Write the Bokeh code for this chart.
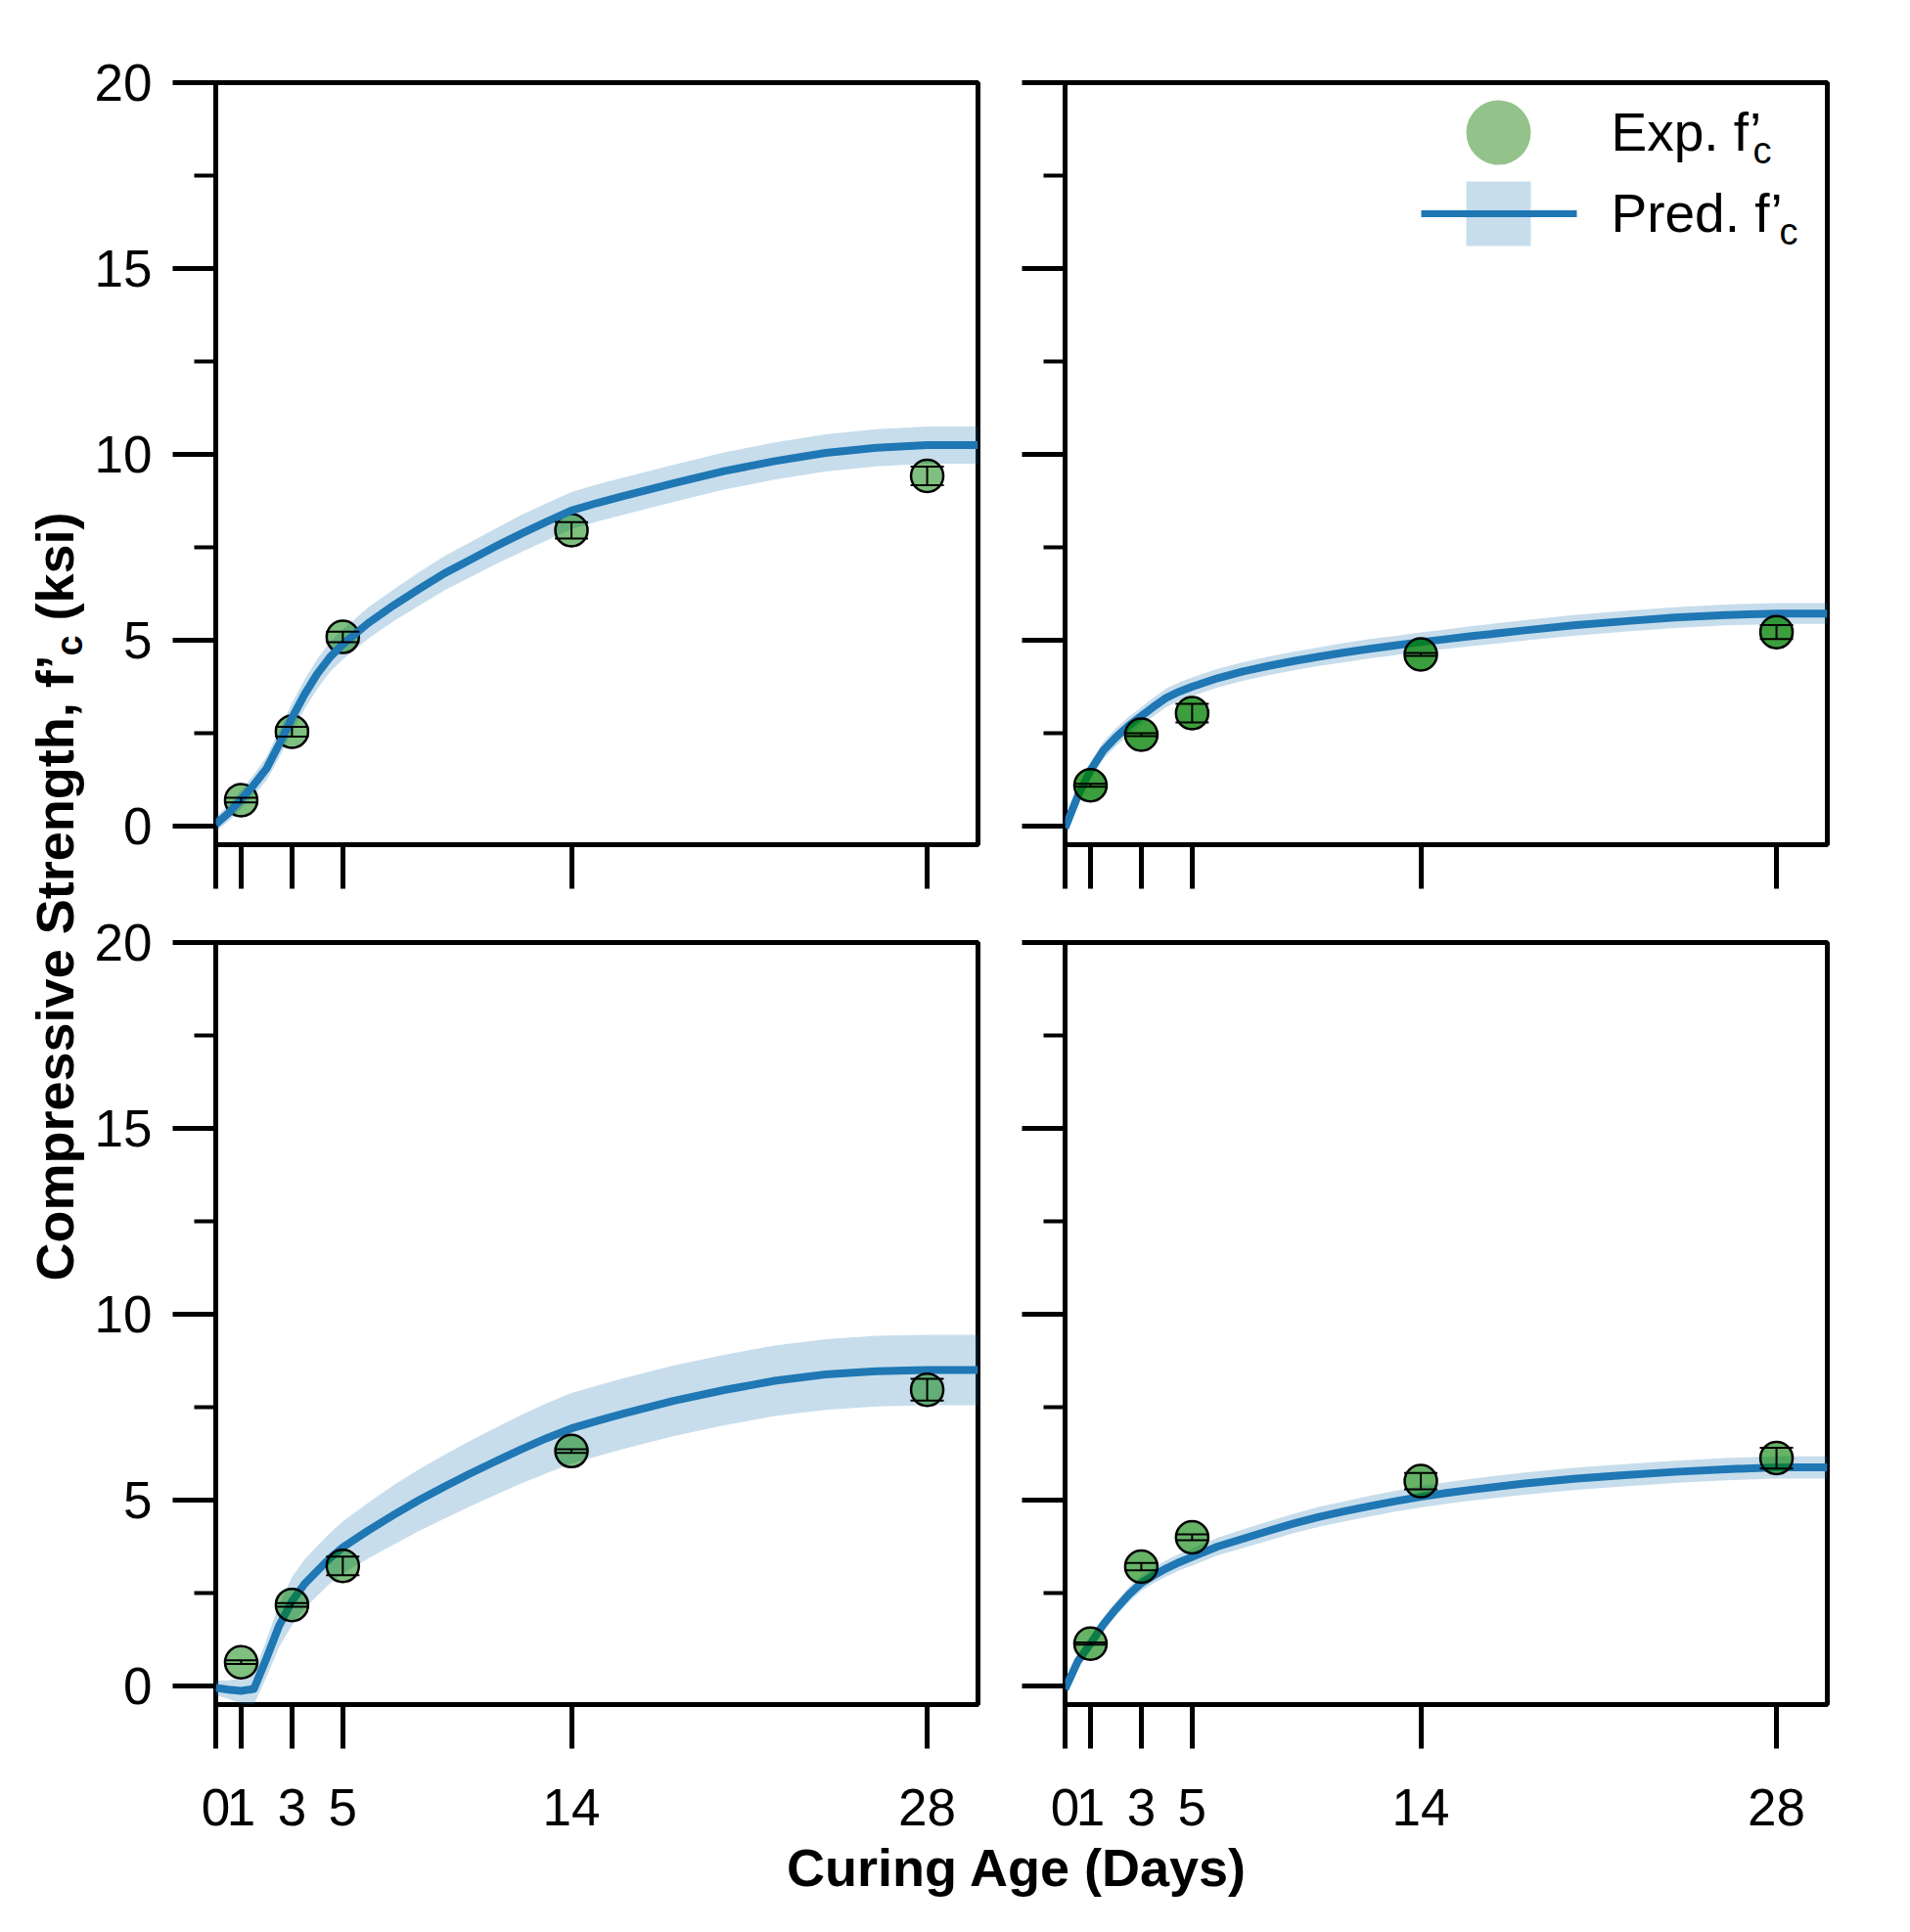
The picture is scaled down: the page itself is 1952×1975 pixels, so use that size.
import math
from bokeh.plotting import figure
from bokeh.models import (Range1d, FixedTicker, ColumnDataSource, Whisker, TeeHead,
                          Label, BoxAnnotation)
from bokeh.layouts import row, column
from bokeh.embed import file_html
from bokeh.resources import INLINE

FONT = "Liberation Sans"

# ---------------- data ----------------
curve_days = [0, 0.5, 1, 1.5, 2, 2.5, 3, 3.5, 4, 4.5, 5, 6, 7, 8, 9, 10, 11, 12, 13, 14,
              15, 16, 18, 20, 22, 24, 26, 28, 30]
exp_days = [1, 3, 5, 14, 28]
x_ticks = [0, 1, 3, 5, 14, 28]
y_major = [0, 5, 10, 15, 20]
y_minor = [2.5, 7.5, 12.5, 17.5]

# top-left panel
a_exp = [0.70, 2.54, 5.09, 7.96, 9.42]
a_err = [0.06, 0.13, 0.14, 0.22, 0.25]
a_pred = [0.05, 0.35, 0.72, 1.11, 1.55, 2.21, 2.91, 3.55, 4.10, 4.55, 4.89, 5.46, 5.94, 6.38, 6.80,
          7.16, 7.52, 7.86, 8.18, 8.49, 8.69, 8.87, 9.22, 9.55, 9.82, 10.04, 10.18, 10.25, 10.25]
a_lo = [-0.15, 0.13, 0.47, 0.83, 1.23, 1.85, 2.51, 3.15, 3.70, 4.15, 4.49, 5.04, 5.51, 5.93, 6.34,
        6.69, 7.04, 7.36, 7.68, 7.99, 8.19, 8.37, 8.72, 9.05, 9.32, 9.54, 9.68, 9.75, 9.75]
a_hi = [0.25, 0.57, 0.97, 1.39, 1.87, 2.57, 3.31, 3.95, 4.50, 4.95, 5.29, 5.88, 6.37, 6.83, 7.26,
        7.63, 8.00, 8.36, 8.68, 8.99, 9.19, 9.37, 9.72, 10.05, 10.32, 10.54, 10.68, 10.75, 10.75]

# top-right panel
b_exp = [1.10, 2.46, 3.04, 4.62, 5.22]
b_err = [0.04, 0.04, 0.25, 0.04, 0.19]
b_pred = [-0.05, 0.81, 1.50, 2.03, 2.39, 2.70, 2.96, 3.22, 3.46, 3.62, 3.75, 3.98, 4.16, 4.31, 4.44,
          4.56, 4.67, 4.77, 4.86, 4.95, 5.03, 5.11, 5.26, 5.40, 5.51, 5.61, 5.68, 5.72, 5.72]
b_lo = [-0.20, 0.61, 1.28, 1.80, 2.15, 2.46, 2.72, 2.97, 3.21, 3.37, 3.50, 3.73, 3.91, 4.06, 4.19,
        4.31, 4.41, 4.51, 4.60, 4.69, 4.77, 4.84, 4.99, 5.12, 5.23, 5.33, 5.40, 5.44, 5.44]
b_hi = [0.10, 1.01, 1.72, 2.26, 2.63, 2.94, 3.20, 3.47, 3.71, 3.87, 4.00, 4.23, 4.41, 4.56, 4.69,
        4.81, 4.93, 5.03, 5.12, 5.21, 5.29, 5.38, 5.53, 5.68, 5.79, 5.89, 5.96, 6.00, 6.00]

# bottom-left panel
c_exp = [0.64, 2.18, 3.23, 6.32, 7.97]
c_err = [0.05, 0.05, 0.25, 0.05, 0.29]
c_pred = [-0.05, -0.10, -0.13, -0.08, 0.75, 1.63, 2.28, 2.75, 3.10, 3.44, 3.73, 4.18, 4.60, 5.00, 5.36,
          5.71, 6.04, 6.36, 6.66, 6.93, 7.13, 7.32, 7.67, 7.96, 8.21, 8.38, 8.47, 8.50, 8.50]
c_lo = [-0.25, -0.35, -0.48, -0.50, 0.25, 1.05, 1.63, 2.09, 2.43, 2.76, 3.03, 3.43, 3.80, 4.17, 4.50,
        4.83, 5.14, 5.44, 5.72, 5.98, 6.18, 6.37, 6.72, 7.01, 7.26, 7.43, 7.52, 7.55, 7.55]
c_hi = [0.15, 0.15, 0.22, 0.34, 1.25, 2.21, 2.93, 3.41, 3.77, 4.12, 4.43, 4.93, 5.40, 5.83, 6.22,
        6.59, 6.94, 7.28, 7.60, 7.88, 8.08, 8.27, 8.62, 8.91, 9.16, 9.33, 9.42, 9.45, 9.45]

# bottom-right panel
d_exp = [1.14, 3.21, 4.00, 5.51, 6.13]
d_err = [0.03, 0.10, 0.08, 0.22, 0.28]
d_pred = [-0.08, 0.66, 1.14, 1.65, 2.07, 2.45, 2.77, 2.98, 3.17, 3.33, 3.47, 3.75, 3.96, 4.17, 4.37,
          4.55, 4.70, 4.84, 4.97, 5.09, 5.19, 5.28, 5.44, 5.57, 5.67, 5.76, 5.83, 5.88, 5.88]
d_lo = [-0.23, 0.50, 0.97, 1.47, 1.88, 2.25, 2.56, 2.77, 2.95, 3.11, 3.24, 3.51, 3.71, 3.91, 4.11,
        4.28, 4.43, 4.56, 4.69, 4.80, 4.90, 4.99, 5.14, 5.27, 5.37, 5.46, 5.53, 5.58, 5.58]
d_hi = [0.07, 0.82, 1.31, 1.83, 2.26, 2.65, 2.98, 3.19, 3.39, 3.55, 3.70, 3.99, 4.21, 4.43, 4.63,
        4.82, 4.97, 5.12, 5.25, 5.38, 5.48, 5.57, 5.74, 5.87, 5.97, 6.06, 6.13, 6.18, 6.18]

LINE_C = "#1f77b4"
MARK_C = "green"
FRAME = 779


def make_panel(exp, err, pred, lo, hi, m_alpha, line_on_top, show_y, show_x,
               left, right, top, bottom):
    p = figure(frame_width=FRAME, frame_height=FRAME,
               x_range=Range1d(0, 30), y_range=Range1d(-0.5, 20),
               output_backend="svg", toolbar_location=None,
               min_border_left=left, min_border_right=right,
               min_border_top=top, min_border_bottom=bottom,
               background_fill_color="white", border_fill_color="white")
    p.outline_line_color = "black"
    p.outline_line_width = 5
    p.xgrid.visible = False
    p.ygrid.visible = False

    p.xaxis.ticker = FixedTicker(ticks=x_ticks, minor_ticks=[])
    p.yaxis.ticker = FixedTicker(ticks=y_major, minor_ticks=y_minor)
    for ax in (p.xaxis[0], p.yaxis[0]):
        ax.axis_line_color = None
        ax.major_tick_line_color = "black"
        ax.major_tick_line_width = 5
        ax.major_tick_in = 0
        ax.minor_tick_line_color = "black"
        ax.minor_tick_line_width = 4
        ax.minor_tick_in = 0
        ax.major_label_text_font = FONT
        ax.major_label_text_color = "black"
        ax.major_label_text_font_size = "53px"
    p.yaxis.major_tick_out = 44
    p.yaxis.minor_tick_out = 22
    p.xaxis.major_tick_out = 45
    p.xaxis.minor_tick_out = 0
    p.yaxis.major_label_standoff = 21
    p.xaxis.major_label_standoff = 41
    if not show_y:
        p.yaxis.major_label_text_font_size = "0px"
        p.yaxis.major_label_standoff = 0
        p.yaxis.major_label_overrides = {t: "" for t in y_major}
    if not show_x:
        p.xaxis.major_label_text_font_size = "0px"
        p.xaxis.major_label_standoff = 0
        p.xaxis.major_label_overrides = {t: "" for t in x_ticks}

    p.varea(x=curve_days, y1=lo, y2=hi, fill_color=LINE_C, fill_alpha=0.25)
    if not line_on_top:
        p.line(x=curve_days, y=pred, line_color=LINE_C, line_width=8, line_join="round")
    p.scatter(x=exp_days, y=exp, size=33, marker="circle",
              fill_color=MARK_C, fill_alpha=m_alpha,
              line_color="black", line_width=2.5)
    if line_on_top:
        p.line(x=curve_days, y=pred, line_color=LINE_C, line_width=8, line_join="round")

    src = ColumnDataSource(dict(x=exp_days,
                                lower=[v - e for v, e in zip(exp, err)],
                                upper=[v + e for v, e in zip(exp, err)]))
    wh = Whisker(source=src, base="x", lower="lower", upper="upper",
                 dimension="height", line_color="black", line_width=2,
                 upper_head=TeeHead(size=34, line_color="black", line_width=2),
                 lower_head=TeeHead(size=34, line_color="black", line_width=2),
                 level="overlay")
    p.add_layout(wh)
    return p


tl = make_panel(a_exp, a_err, a_pred, a_lo, a_hi, 0.5, True, True, False, 128, 45, 84, 50)
tr = make_panel(b_exp, b_err, b_pred, b_lo, b_hi, 0.76, False, False, False, 44, 60, 84, 50)
bl = make_panel(c_exp, c_err, c_pred, c_lo, c_hi, 0.5, False, True, True, 128, 45, 50, 135)
br = make_panel(d_exp, d_err, d_pred, d_lo, d_hi, 0.6, False, False, True, 44, 60, 50, 135)

# ---- legend (top-right panel), screen units relative to the frame ----
def sbox(l, r, b, t, color, alpha=1.0, radius=0):
    return BoxAnnotation(left=l, right=r, bottom=b, top=t,
                         left_units="screen", right_units="screen",
                         bottom_units="screen", top_units="screen",
                         fill_color=color, fill_alpha=alpha, line_color=None,
                         border_radius=radius, level="overlay")

tr.add_layout(sbox(410, 476, 695, 761, "#93c28b", 1.0, 33))
tr.add_layout(sbox(410, 476, 612, 678, LINE_C, 0.25))
tr.add_layout(sbox(364, 523, 641.5, 648.5, LINE_C, 1.0))
for txt, xx, yy, sx, sy in [("Exp. f\u2019", 558, 729, 703, 710),
                            ("Pred. f\u2019", 558, 646, 730, 627)]:
    tr.add_layout(Label(x=xx, y=yy, x_units="screen", y_units="screen", text=txt,
                        text_font=FONT, text_font_size="55px", text_color="black",
                        text_baseline="alphabetic", text_align="left"))
    tr.add_layout(Label(x=sx, y=sy, x_units="screen", y_units="screen", text="c",
                        text_font=FONT, text_font_size="38px", text_color="black",
                        text_baseline="alphabetic", text_align="left"))


def blank(w, h):
    p = figure(width=w, height=h, x_range=Range1d(0, 1), y_range=Range1d(0, 1),
               output_backend="svg", toolbar_location=None,
               x_axis_location=None, y_axis_location=None, min_border=0,
               background_fill_color="white", border_fill_color="white")
    p.outline_line_color = None
    p.grid.visible = False
    return p


# y-axis label (spans both rows)
ylab = blank(92, 1877)
for txt, xx, yy, fs in [("Compressive Strength, f\u2019", 55, 568, "54px"),
                        ("c", 70, 1207, "38px"),
                        ("(ksi)", 55, 1243, "54px")]:
    ylab.add_layout(Label(x=xx, y=yy, x_units="screen", y_units="screen", text=txt,
                          angle=math.pi / 2, text_font=FONT, text_font_size=fs,
                          text_font_style="bold", text_color="black",
                          text_baseline="alphabetic", text_align="left"))

# x-axis label (spans both columns)
xlab = blank(1835, 75)
xlab.add_layout(Label(x=947, y=44, x_units="screen", y_units="screen",
                      text="Curing Age (Days)", text_font=FONT, text_font_size="54px",
                      text_font_style="bold", text_color="black",
                      text_baseline="alphabetic", text_align="center"))

layout = row(ylab, column(row(tl, tr), row(bl, br), xlab))

open("out.html", "w").write(file_html(layout, INLINE))
